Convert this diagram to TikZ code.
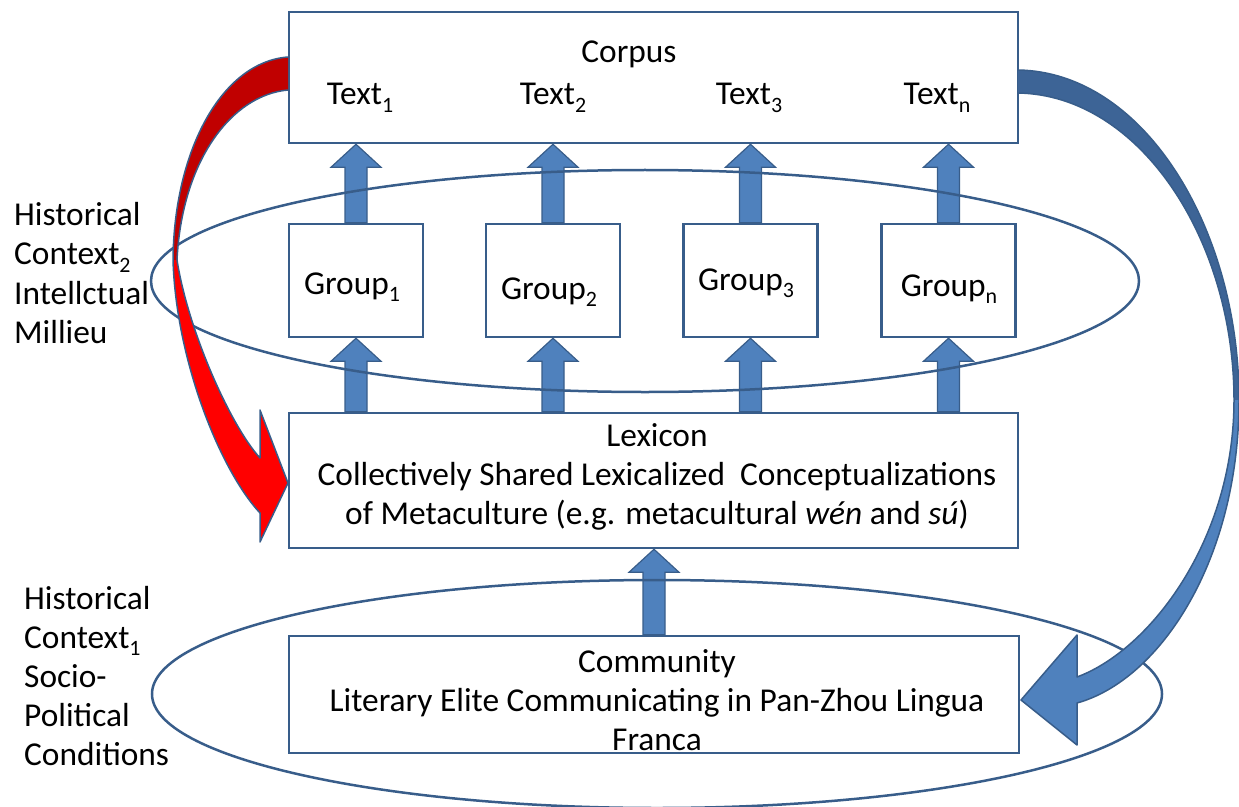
\documentclass[tikz,border=0pt]{standalone}
\usepackage{fontspec}
\setmainfont{Carlito}
\usetikzlibrary{calc,shapes.geometric}
\definecolor{bord}{RGB}{56,93,138}
\definecolor{afill}{RGB}{79,129,189}
\definecolor{adark}{RGB}{61,100,150}
\definecolor{rdark}{RGB}{192,0,0}
\definecolor{rbright}{RGB}{255,0,0}
\newcommand\mysub[1]{\raisebox{-0.22em}{\fontsize{22}{22}\selectfont #1}}
\begin{document}
\begin{tikzpicture}[x=1bp,y=-1bp,
  font=\fontsize{33.5}{39.3}\selectfont,
  box/.style={draw=bord, line width=2.5bp, fill=white, inner sep=0pt, rectangle},
  ell/.style={draw=bord, line width=2.5bp, ellipse, inner sep=0pt},
  lbl/.style={text=black, inner sep=0pt},
  blockup/.style={draw=bord, fill=afill, line width=1.2bp,
    to path={let \p1=(\tikztostart), \p2=(\tikztotarget) in
      (\x1-11bp,\y1) -- (\x1-11bp,\y2-23bp) -- (\x1-25bp,\y2-23bp) -- (\x1,\y2)
      -- (\x1+25bp,\y2-23bp) -- (\x1+11bp,\y2-23bp) -- (\x1+11bp,\y1) -- cycle}},
  curv/.style={draw=bord, line width=1.5bp, line join=round}
]
\useasboundingbox (0,0) rectangle (1239,807);

% boxes
\node[box, minimum width=729bp, minimum height=131bp] (corpus) at (653.5,77.5) {};
\node[box, minimum width=134bp, minimum height=113bp] (g1) at (356,280.5) {};
\node[box, minimum width=134bp, minimum height=113bp] (g2) at (553,280.5) {};
\node[box, minimum width=134bp, minimum height=113bp] (g3) at (750.5,280.5) {};
\node[box, minimum width=134bp, minimum height=113bp] (gn) at (948.5,280.5) {};
\node[box, minimum width=729bp, minimum height=135bp] (lex) at (653.5,480.5) {};
\node[box, minimum width=730bp, minimum height=117bp] (comm) at (654,694.5) {};

% block arrows
\draw[blockup] (g1.north) to (corpus.south -| g1.north);
\draw[blockup] (g2.north) to (corpus.south -| g2.north);
\draw[blockup] (g3.north) to (corpus.south -| g3.north);
\draw[blockup] (gn.north) to (corpus.south -| gn.north);
\draw[blockup] (lex.north -| g1.south) to (g1.south);
\draw[blockup] (lex.north -| g2.south) to (g2.south);
\draw[blockup] (lex.north -| g3.south) to (g3.south);
\draw[blockup] (lex.north -| gn.south) to (gn.south);
\draw[blockup] (comm.north) to (lex.south -| comm.north);

% context ellipses
\node[ell, minimum width=988bp, minimum height=222bp] (ctx2) at (645,281) {};
\node[ell, minimum width=1010bp, minimum height=228bp] (ctx1) at (657,694) {};

% red curved arrow (Corpus -> Lexicon)
\fill[rdark] (288,57) .. controls (222,62) and (174,150) .. (173,260)
  -- (177,260) .. controls (182,160) and (232,95) .. (288,90) -- cycle;
\fill[rbright] (173,260) .. controls (176,360) and (220,470) .. (260,513)
  -- (260,542) -- (288,483) -- (260,410) -- (260,458)
  .. controls (230,425) and (188,330) .. (177,260) -- cycle;
\draw[curv] (288,57) .. controls (222,62) and (174,150) .. (173,260)
  .. controls (176,360) and (220,470) .. (260,513)
  -- (260,542) -- (288,483) -- (260,410) -- (260,458)
  .. controls (230,425) and (188,330) .. (177,260)
  .. controls (182,160) and (232,95) .. (288,90);

% blue curved arrow (Corpus -> Community)
\fill[adark] (1018,70) .. controls (1145,72) and (1239,230) .. (1239,400)
  -- (1234,400) .. controls (1234,240) and (1140,95) .. (1018,93) -- cycle;
\fill[afill] (1239,400) .. controls (1239,560) and (1160,680) .. (1077,703)
  -- (1077,745) -- (1021,700) -- (1077,635) -- (1077,677)
  .. controls (1150,650) and (1234,540) .. (1234,400) -- cycle;
\draw[curv] (1018,70) .. controls (1145,72) and (1239,230) .. (1239,400)
  .. controls (1239,560) and (1160,680) .. (1077,703)
  -- (1077,745) -- (1021,700) -- (1077,635) -- (1077,677)
  .. controls (1150,650) and (1234,540) .. (1234,400)
  .. controls (1234,240) and (1140,95) .. (1018,93);

% texts
\node[lbl, anchor=base] (tc) at (629,63) {Corpus};
\node[lbl, anchor=base] (t1) at (360,105) {Text\mysub{1}};
\node[lbl, anchor=base] (t2) at (553,105) {Text\mysub{2}};
\node[lbl, anchor=base] (t3) at (749,105) {Text\mysub{3}};
\node[lbl, anchor=base] (tn) at (937,105) {Text\mysub{n}};
\node[lbl, anchor=base] (lg1) at (352,294) {Group\mysub{1}};
\node[lbl, anchor=base] (lg2) at (549,299) {Group\mysub{2}};
\node[lbl, anchor=base] (lg3) at (746,290) {Group\mysub{3}};
\node[lbl, anchor=base] (lgn) at (949,296) {Group\mysub{n}};
\node[lbl, align=center] (llex) at (657,477) {Lexicon\\Collectively Shared Lexicalized\ \ Conceptualizations\\of Metaculture (e.g. metacultural \textit{wén} and \textit{sú})};
\node[lbl, align=center] (lcomm) at (657,700) {Community\\Literary Elite Communicating in Pan-Zhou Lingua\\Franca};
\node[lbl, align=left, anchor=west] (lctx2) at (14,273) {Historical\\Context\mysub{2}\\Intellctual\\Millieu};
\node[lbl, align=left, anchor=west] (lctx1) at (24,676) {Historical\\Context\mysub{1}\\Socio-\\Political\\Conditions};
\end{tikzpicture}
\end{document}
